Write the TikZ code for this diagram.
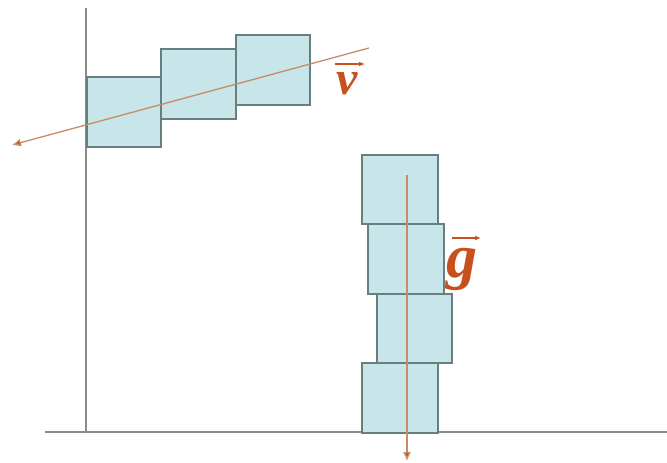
\documentclass[tikz,border=0pt]{standalone}
\usepackage{fontspec}
\setmainfont{Liberation Serif}
\usetikzlibrary{arrows.meta}
\definecolor{boxfill}{HTML}{C8E5E9}
\definecolor{boxline}{HTML}{66807F}
\definecolor{vecline}{HTML}{C98A66}
\definecolor{vecred}{HTML}{C8501C}
\definecolor{axiscol}{HTML}{8A8A8A}
\begin{document}
\begin{tikzpicture}[x=1pt,y=-1pt,
  block/.style={draw=boxline, fill=boxfill, line width=1.5pt, inner sep=0pt,
    minimum width=74pt, minimum height=70pt, anchor=north west},
  axisline/.style={draw=axiscol, line width=1.5pt},
  vecarrow/.style={draw=vecline, line width=1.3pt, -{Latex[length=9pt,width=8pt,fill=vecred]}},
  labelarrow/.style={draw=vecred, line width=1.6pt, -{Latex[length=6pt,width=5pt]}},
  veclabel/.style={text=vecred, inner sep=0pt, anchor=base, font=\bfseries\itshape}]
\useasboundingbox (0,0) rectangle (667,463);
% axes
\coordinate (ytop) at (86,8);
\coordinate (origin) at (86,432);
\coordinate (xleft) at (45,432);
\coordinate (xright) at (667,432);
\draw[axisline] (ytop) -- (origin);
\draw[axisline] (xleft) -- (xright);
% top boxes
\node[block] (t1) at (86,76) {};
\node[block, minimum width=75pt] (t2) at (160,48) {};
\node[block] (t3) at (235,34) {};
% stack
\node[block, minimum width=76pt, minimum height=69pt] (s1) at (361,154) {};
\node[block, minimum width=76pt] (s2) at (367,223) {};
\node[block, minimum width=75pt, minimum height=69pt] (s3) at (376,293) {};
\node[block, minimum width=76pt] (s4) at (361,362) {};
% velocity vector
\coordinate (vstart) at (369,48);
\coordinate (vend) at (12,145);
\draw[vecarrow] (vstart) -- (vend);
\node[veclabel, font=\fontsize{48}{48}\selectfont\bfseries\itshape] (vlab) at (347,94) {v};
\coordinate (va) at (335,64);
\coordinate (vb) at (365,64);
\draw[labelarrow] (va) -- (vb);
% gravity vector
\coordinate (gstart) at (407,175);
\coordinate (gend) at (407,461);
\draw[vecarrow] (gstart) -- (gend);
\node[veclabel, font=\fontsize{62}{62}\selectfont\bfseries\itshape] (glab) at (462,277) {g};
\coordinate (ga) at (452,238);
\coordinate (gb) at (481,238);
\draw[labelarrow] (ga) -- (gb);
\end{tikzpicture}
\end{document}
